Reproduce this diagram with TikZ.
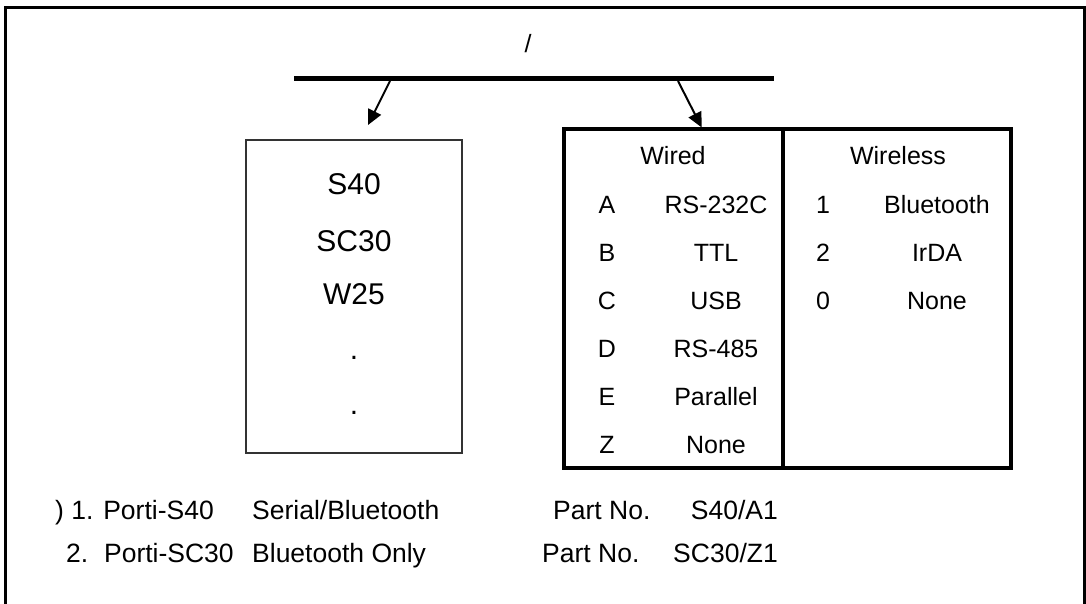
\documentclass[tikz,border=0pt]{standalone}
\usepackage{fontspec}
\setmainfont{Liberation Sans}
\usepackage{tikz}
\usetikzlibrary{calc, arrows.meta}

\begin{document}
\begin{tikzpicture}[x=1pt, y=-1pt,
  txt/.style={anchor=base, inner sep=0pt, font=\fontsize{25}{30}\selectfont},
  bigtxt/.style={anchor=base, inner sep=0pt, font=\fontsize{30}{36}\selectfont},
  notetxt/.style={anchor=base west, inner sep=0pt, font=\fontsize{26.5}{32}\selectfont},
  pick/.style={line width=2pt, -{Triangle[length=15pt, width=14pt]}},
  thinbox/.style={draw=black!80, line width=1.5pt, minimum width=216pt, minimum height=313pt, inner sep=0pt},
  thickbox/.style={draw, line width=4pt, minimum height=338pt, inner sep=0pt}]
  \useasboundingbox (0,0) rectangle (1086,604);
  \fill[white] (0,0) rectangle (1086,604);

  % ---- cadre ----
  \draw[line width=3pt] (5.5,615) -- (5.5,7.5) -- (1084,7.5) -- (1084,615);

  % ---- titre et barre ----
  \node[txt] (title) at (528,53) {/};
  \coordinate (barL) at (294,79);
  \coordinate (barR) at (774,79);
  \draw[line width=5pt] (barL) -- (barR);
  \coordinate (pickL) at (390,81);
  \coordinate (pickR) at (678,81);

  % ---- modeles ----
  \node[thinbox] (models) at (354,296.5) {};
  \foreach \name/\y in {S40/194, SC30/251, W25/304, ./359, ./414}
    \node[bigtxt] at (354,\y) {\name};

  % ---- interfaces ----
  \node[thickbox, minimum width=219pt] (wired) at (673.5,298.5) {};
  \node[thickbox, minimum width=227.5pt] (wireless) at (896.75,298.5) {};
  \node[txt] (wiredhead) at (673,165) {Wired};
  \node[txt] (wirelesshead) at (898,165) {Wireless};
  % Wired
  \foreach \code/\iface [count=\i from 0] in {A/RS-232C, B/TTL, C/USB, D/RS-485, E/Parallel, Z/None} {
    \node[txt] at (607,213+48*\i) {\code};
    \node[txt] at (716,213+48*\i) {\iface};
  }
  % Wireless
  \foreach \code/\iface [count=\i from 0] in {1/Bluetooth, 2/IrDA, 0/None} {
    \node[txt] at (823,213+48*\i) {\code};
    \node[txt] at (937,213+48*\i) {\iface};
  }

  % ---- fleches ----
  \draw[pick] (pickL) -- (368,125);
  \draw[pick] (pickR) -- (wired.north -| 701.7,0);

  % ---- exemples ----
  \node[notetxt] (ex1) at (55,519) {) 1. Porti-S40};
  \node[notetxt] (ex1d) at (252,519) {Serial/Bluetooth};
  \node[notetxt] (ex1p) at (553,519) {Part No.};
  \node[notetxt, anchor=base east] (ex1c) at (778,519) {S40/A1};
  \node[notetxt] (ex2) at (66,562) {2.\hspace{6pt} Porti-SC30};
  \node[notetxt] (ex2d) at (252,562) {Bluetooth Only};
  \node[notetxt] (ex2p) at (542,562) {Part No.};
  \node[notetxt, anchor=base east] (ex2c) at (778,562) {SC30/Z1};
\end{tikzpicture}
\end{document}
